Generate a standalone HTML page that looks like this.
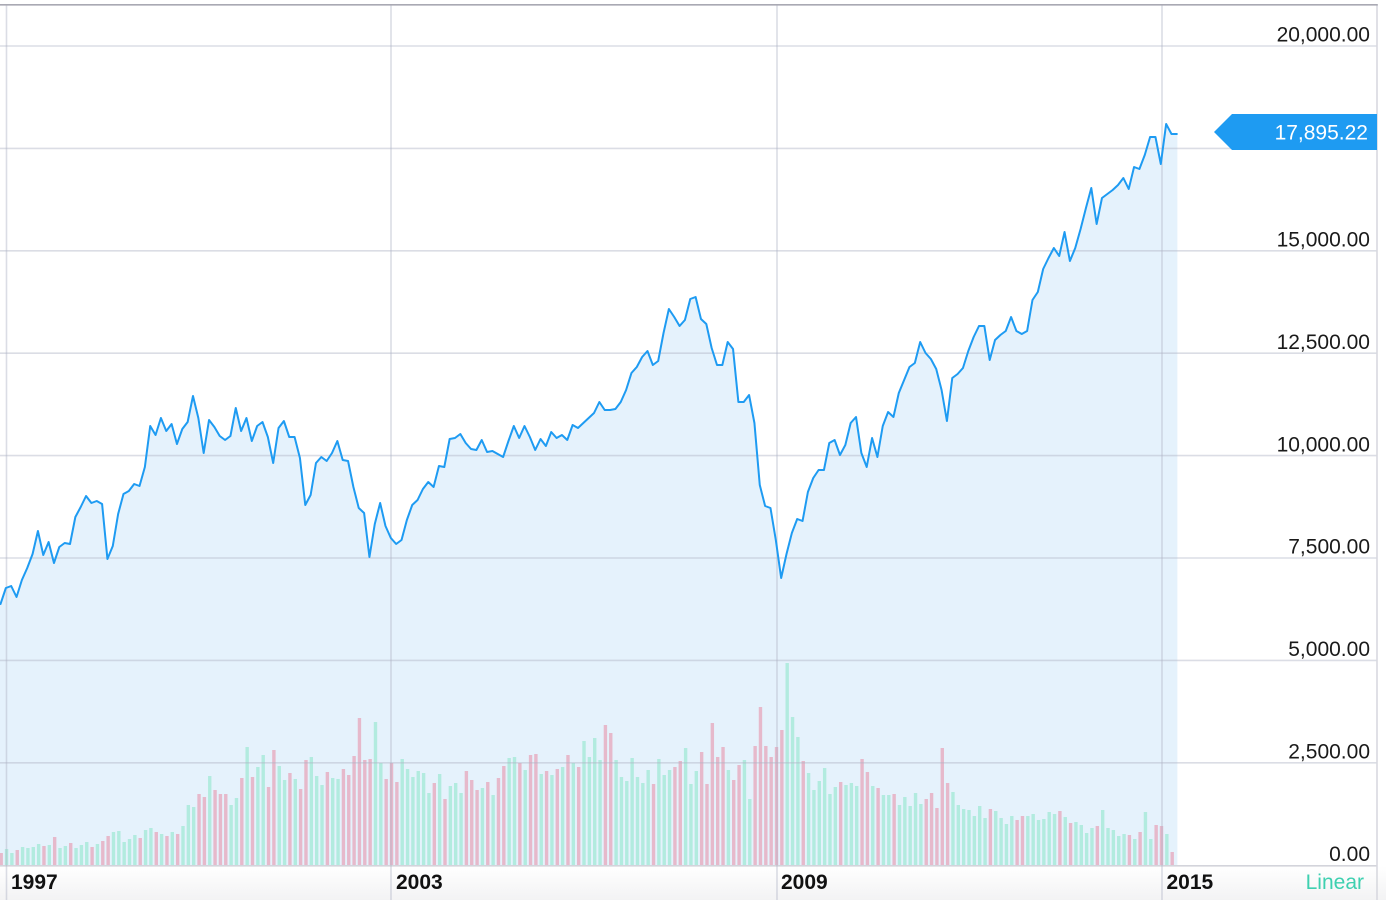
<!DOCTYPE html>
<html><head><meta charset="utf-8"><style>
html,body{margin:0;padding:0;background:#fff;}
svg{display:block;}
text{font-family:"Liberation Sans",Arial,sans-serif;}
</style></head><body>
<svg width="1386" height="900" viewBox="0 0 1386 900" xmlns="http://www.w3.org/2000/svg">
<defs>
<linearGradient id="bb" x1="0" y1="0" x2="0" y2="1"><stop offset="0" stop-color="#ffffff"/><stop offset="1" stop-color="#f3f3f4"/></linearGradient>
</defs>
<rect x="0" y="0" width="1386" height="900" fill="#fff"/>
<!-- area fill -->
<g transform="translate(0.5,0) scale(5.347,1)">
<polygon fill="#e5f2fc" points="-0.1,866 -0.1,604 0,604 1,588 2,586 3,597 4,580 5,568 6,554 7,531 8,555 9,542 10,563 11,547 12,543 13,544 14,517 15,507 16,496 17,503 18,501 19,504 20,559 21,546 22,514 23,494 24,491 25,484 26,486 27,467 28,426 29,435 30,418 31,431 32,424 33,444 34,429 35,422 36,396 37,418 38,453 39,420 40,427 41,436 42,440 43,436 44,408 45,431 46,418 47,441 48,426 49,422 50,437 51,463 52,428 53,421 54,437 55,437 56,458 57,505 58,495 59,463 60,457 61,461 62,453 63,441 64,460 65,461 66,487 67,508 68,513 69,557 70,524 71,503 72,526 73,538 74,544 75,540 76,520 77,505 78,500 79,489 80,482 81,487 82,466 83,467 84,439 85,438 86,434 87,443 88,449 89,450 90,440 91,452 92,451 93,454 94,457 95,441 96,426 97,438 98,426 99,437 100,450 101,439 102,446 103,432 104,438 105,435 106,440 107,425 108,428 109,423 110,418 111,413 112,402 113,410 114,410 115,409 116,402 117,390 118,373 119,367 120,357 121,351 122,365 123,361 124,333 125,309 126,317 127,326 128,320 129,299 130,297 131,319 132,324 133,348 134,365 135,365 136,342 137,349 138,402 139,402 140,395 141,423 142,485 143,506 144,508 145,540 146,578 147,554 148,533 149,519 150,521 151,492 152,478 153,470 154,470 155,443 156,440 157,455 158,445 159,423 160,417 161,453 162,467 163,438 164,457 165,426 166,412 167,417 168,393 169,380 170,367 171,363 172,342 173,353 174,359 175,369 176,390 177,421 178,378 179,374 180,368 181,351 182,337 183,326 184,326 185,360 186,340 187,335 188,331 189,317 190,331 191,334 192,331 193,300 194,292 195,269 196,258 197,248 198,256 199,232 200,261 201,248 202,229 203,208 204,188 205,224 206,198 207,194 208,190 209,185 210,178 211,189 212,167 213,169 214,155 215,137 216,137 217,164 218,124 219,134 220,134 220.1,134 220.1,866"/>
</g>
<!-- volume bars -->
<g transform="translate(1.2,0) scale(5.347,1)" fill="none" stroke-width="3.4">
<path vector-effect="non-scaling-stroke" stroke="#e6b9cb" d="M0 866V853M3 866V850M8 866V846M10 866V837M13 866V843M17 866V847M19 866V841M20 866V836M26 866V838M29 866V832M31 866V836M33 866V834M37 866V794M38 866V797M40 866V790M41 866V794M42 866V794M45 866V778M47 866V777M50 866V787M51 866V750M54 866V773M56 866V789M57 866V760M61 866V772M64 866V769M65 866V775M66 866V756M67 866V718M68 866V760M69 866V759M72 866V779M73 866V763M74 866V782M81 866V783M83 866V799M87 866V771M88 866V780M89 866V790M91 866V782M93 866V778M94 866V766M97 866V763M99 866V755M100 866V754M102 866V771M104 866V769M106 866V755M108 866V767M113 866V725M114 866V733M122 866V784M126 866V767M127 866V761M131 866V752M132 866V784M133 866V723M134 866V757M135 866V747M137 866V780M138 866V765M141 866V746M142 866V707M143 866V746M144 866V757M145 866V747M146 866V730M150 866V761M157 866V782M161 866V759M162 866V772M164 866V788M167 866V794M173 866V799M174 866V793M175 866V808M176 866V748M177 866V783M185 866V809M190 866V820M191 866V816M198 866V811M200 866V823M205 866V826M211 866V835M213 866V832M216 866V825M217 866V826M219 866V852"/>
<path vector-effect="non-scaling-stroke" stroke="#b2ebdf" d="M1 866V849M2 866V853M4 866V847M5 866V848M6 866V847M7 866V844M9 866V845M11 866V848M12 866V846M14 866V848M15 866V845M16 866V842M18 866V844M21 866V832M22 866V831M23 866V842M24 866V839M25 866V835M27 866V830M28 866V828M30 866V834M32 866V832M34 866V826M35 866V805M36 866V807M39 866V776M43 866V805M44 866V798M46 866V747M48 866V767M49 866V755M52 866V766M53 866V780M55 866V779M58 866V757M59 866V776M60 866V785M62 866V778M63 866V779M70 866V722M71 866V763M75 866V759M76 866V769M77 866V777M78 866V771M79 866V773M80 866V793M82 866V774M84 866V786M85 866V783M86 866V793M90 866V788M92 866V795M95 866V758M96 866V757M98 866V770M101 866V774M103 866V775M105 866V767M107 866V763M109 866V741M110 866V757M111 866V738M112 866V760M115 866V760M116 866V777M117 866V781M118 866V758M119 866V777M120 866V783M121 866V770M123 866V759M124 866V775M125 866V770M128 866V748M129 866V784M130 866V771M136 866V770M139 866V760M140 866V799M147 866V663M148 866V717M149 866V737M151 866V773M152 866V790M153 866V781M154 866V768M155 866V794M156 866V787M158 866V785M159 866V783M160 866V786M163 866V786M165 866V795M166 866V795M168 866V805M169 866V797M170 866V806M171 866V793M172 866V804M178 866V792M179 866V805M180 866V809M181 866V810M182 866V816M183 866V806M184 866V818M186 866V811M187 866V818M188 866V824M189 866V816M192 866V816M193 866V814M194 866V820M195 866V819M196 866V812M197 866V814M199 866V817M201 866V822M202 866V825M203 866V833M204 866V828M206 866V810M207 866V828M208 866V830M209 866V836M210 866V834M212 866V839M214 866V812M215 866V839M218 866V834"/>
</g>
<!-- bottom band -->
<rect x="0" y="866" width="1386" height="34" fill="url(#bb)"/>
<!-- horizontal gridlines -->
<g stroke="rgba(175,180,198,0.45)" stroke-width="1.6">
<line x1="0" y1="46" x2="1377" y2="46"/>
<line x1="0" y1="148.4" x2="1377" y2="148.4"/>
<line x1="0" y1="250.8" x2="1377" y2="250.8"/>
<line x1="0" y1="353.2" x2="1377" y2="353.2"/>
<line x1="0" y1="455.6" x2="1377" y2="455.6"/>
<line x1="0" y1="558" x2="1377" y2="558"/>
<line x1="0" y1="660.4" x2="1377" y2="660.4"/>
<line x1="0" y1="762.8" x2="1377" y2="762.8"/>
</g>
<line x1="0" y1="865.8" x2="1377" y2="865.8" stroke="#d3d4db" stroke-width="1.6"/>
<!-- vertical gridlines -->
<g stroke="rgba(175,180,198,0.45)" stroke-width="1.6">
<line x1="6.5" y1="5" x2="6.5" y2="900"/>
<line x1="391" y1="5" x2="391" y2="900"/>
<line x1="777" y1="5" x2="777" y2="900"/>
<line x1="1162" y1="5" x2="1162" y2="900"/>
</g>
<line x1="1377" y1="5" x2="1377" y2="900" stroke="#d8d9df" stroke-width="1.6"/>
<line x1="0" y1="4.8" x2="1377.8" y2="4.8" stroke="#a9a9b3" stroke-width="1.6"/>
<!-- price line -->
<g transform="translate(0.5,0) scale(5.347,1)">
<polyline vector-effect="non-scaling-stroke" fill="none" stroke="#1e9bf2" stroke-width="2" stroke-linejoin="round" stroke-linecap="round" points="0,604 1,588 2,586 3,597 4,580 5,568 6,554 7,531 8,555 9,542 10,563 11,547 12,543 13,544 14,517 15,507 16,496 17,503 18,501 19,504 20,559 21,546 22,514 23,494 24,491 25,484 26,486 27,467 28,426 29,435 30,418 31,431 32,424 33,444 34,429 35,422 36,396 37,418 38,453 39,420 40,427 41,436 42,440 43,436 44,408 45,431 46,418 47,441 48,426 49,422 50,437 51,463 52,428 53,421 54,437 55,437 56,458 57,505 58,495 59,463 60,457 61,461 62,453 63,441 64,460 65,461 66,487 67,508 68,513 69,557 70,524 71,503 72,526 73,538 74,544 75,540 76,520 77,505 78,500 79,489 80,482 81,487 82,466 83,467 84,439 85,438 86,434 87,443 88,449 89,450 90,440 91,452 92,451 93,454 94,457 95,441 96,426 97,438 98,426 99,437 100,450 101,439 102,446 103,432 104,438 105,435 106,440 107,425 108,428 109,423 110,418 111,413 112,402 113,410 114,410 115,409 116,402 117,390 118,373 119,367 120,357 121,351 122,365 123,361 124,333 125,309 126,317 127,326 128,320 129,299 130,297 131,319 132,324 133,348 134,365 135,365 136,342 137,349 138,402 139,402 140,395 141,423 142,485 143,506 144,508 145,540 146,578 147,554 148,533 149,519 150,521 151,492 152,478 153,470 154,470 155,443 156,440 157,455 158,445 159,423 160,417 161,453 162,467 163,438 164,457 165,426 166,412 167,417 168,393 169,380 170,367 171,363 172,342 173,353 174,359 175,369 176,390 177,421 178,378 179,374 180,368 181,351 182,337 183,326 184,326 185,360 186,340 187,335 188,331 189,317 190,331 191,334 192,331 193,300 194,292 195,269 196,258 197,248 198,256 199,232 200,261 201,248 202,229 203,208 204,188 205,224 206,198 207,194 208,190 209,185 210,178 211,189 212,167 213,169 214,155 215,137 216,137 217,164 218,124 219,134 220,134"/>
</g>
<!-- y-axis labels -->
<g font-size="21" fill="#1a1a1a" text-anchor="end">
<text x="1370" y="41.7">20,000.00</text>
<text x="1370" y="246.5">15,000.00</text>
<text x="1370" y="349">12,500.00</text>
<text x="1370" y="451.3">10,000.00</text>
<text x="1370" y="553.7">7,500.00</text>
<text x="1370" y="656">5,000.00</text>
<text x="1370" y="758.5">2,500.00</text>
<text x="1370" y="861">0.00</text>
</g>
<!-- price tag -->
<polygon points="1214,132 1232,114 1377,114 1377,150 1232,150" fill="#1e9bf2"/>
<text x="1368" y="139.5" font-size="21" fill="#ffffff" text-anchor="end">17,895.22</text>
<!-- x-axis labels -->
<g font-size="21" font-weight="bold" fill="#111">
<text x="11" y="889">1997</text>
<text x="396" y="889">2003</text>
<text x="781" y="889">2009</text>
<text x="1166.5" y="889">2015</text>
</g>
<text x="1364" y="889" font-size="21" fill="#3ed0b0" text-anchor="end">Linear</text>
</svg>
</body></html>
